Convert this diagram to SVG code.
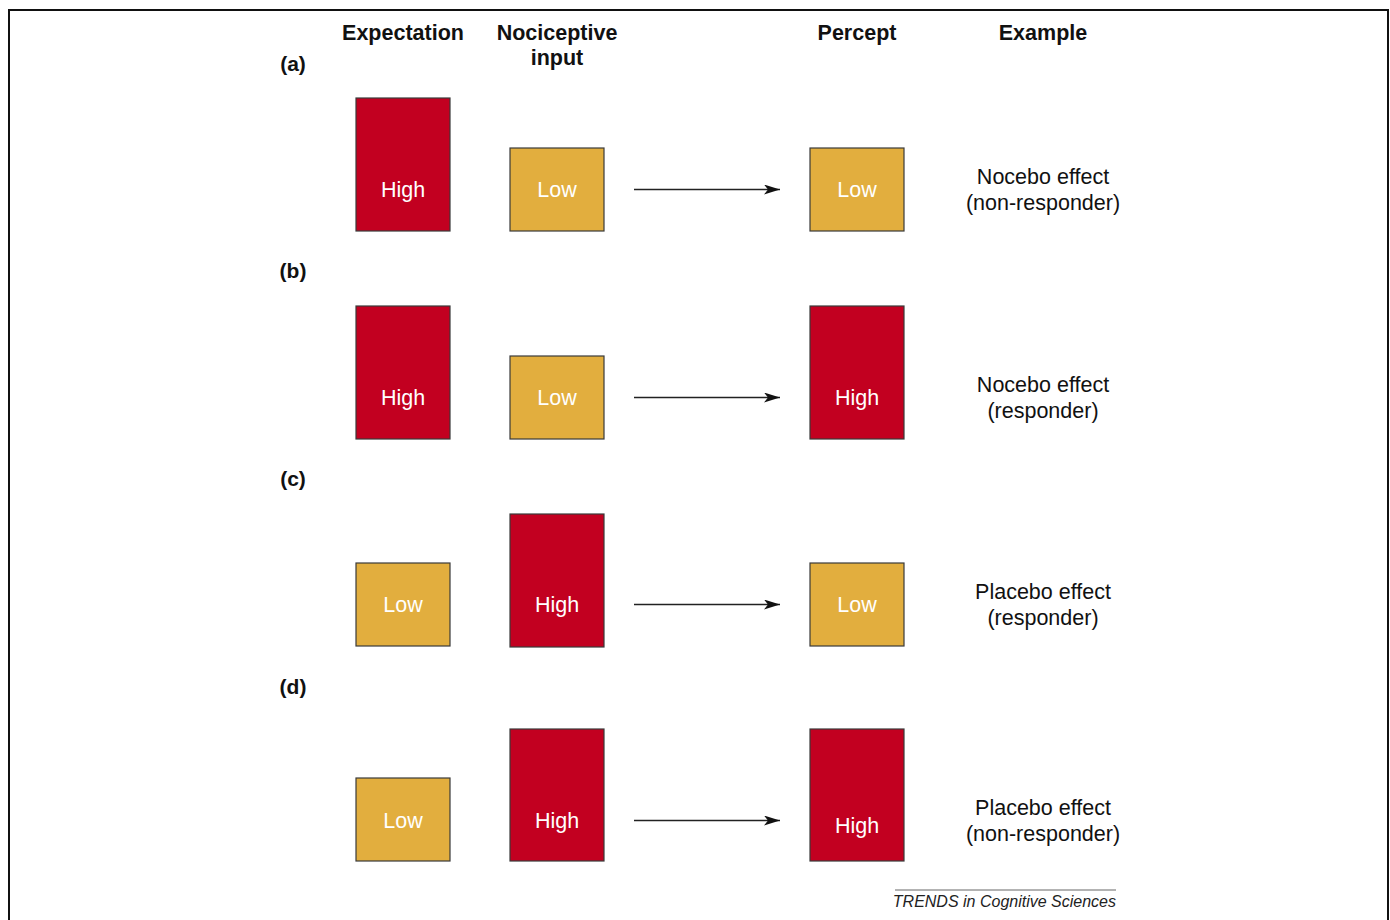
<svg xmlns="http://www.w3.org/2000/svg" width="1390" height="920" viewBox="0 0 1390 920">
  <style>
    .hdr { font-family: "Liberation Sans", Arial, sans-serif; font-weight: bold; font-size: 21.5px; fill: #111; text-anchor: middle; }
    .lbl { font-family: "Liberation Sans", Arial, sans-serif; font-weight: bold; font-size: 21px; fill: #111; text-anchor: middle; }
    .box { stroke: #3a3a3a; stroke-width: 1.2; }
    .hi { fill: #c20020; }
    .lo { fill: #e2ae3e; }
    .bt { font-family: "Liberation Sans", Arial, sans-serif; font-size: 21.5px; fill: #ffffff; text-anchor: middle; }
    .ex { font-family: "Liberation Sans", Arial, sans-serif; font-size: 21.5px; fill: #111; text-anchor: middle; }
    .arrow { stroke: #222; stroke-width: 1.6; fill: none; marker-end: url(#head); }
  </style>
  <defs>
    <marker id="head" viewBox="0 0 16 10" refX="16" refY="5" markerWidth="16" markerHeight="10" markerUnits="userSpaceOnUse" orient="auto">
      <path d="M0,0 L16,5 L0,10 L4,5 Z" fill="#111"/>
    </marker>
  </defs>

  <rect x="0" y="0" width="1390" height="920" fill="#ffffff"/>
  <!-- outer frame -->
  <path d="M9,921 V10 H1388 V921" fill="none" stroke="#111" stroke-width="2"/>

  <!-- column headers -->
  <g id="headers">
    <text class="hdr" x="403" y="40">Expectation</text>
    <text class="hdr" x="557" y="40">Nociceptive</text>
    <text class="hdr" x="557" y="65">input</text>
    <text class="hdr" x="857" y="40">Percept</text>
    <text class="hdr" x="1043" y="40">Example</text>
  </g>

  <!-- row labels -->
  <g id="row-labels">
    <text class="lbl" x="293" y="71">(a)</text>
    <text class="lbl" x="293" y="278">(b)</text>
    <text class="lbl" x="293" y="486">(c)</text>
    <text class="lbl" x="293" y="694">(d)</text>
  </g>

  <!-- row (a) -->
  <g id="a-expectation"><rect class="box hi" x="356" y="98" width="94" height="133"/><text class="bt" x="403" y="197">High</text></g>
  <g id="a-input"><rect class="box lo" x="510" y="148" width="94" height="83"/><text class="bt" x="557" y="197">Low</text></g>
  <g id="a-percept"><rect class="box lo" x="810" y="148" width="94" height="83"/><text class="bt" x="857" y="197">Low</text></g>
  <g id="a-example"><text class="ex" x="1043" y="184">Nocebo effect</text><text class="ex" x="1043" y="210">(non-responder)</text></g>

  <!-- row (b) -->
  <g id="b-expectation"><rect class="box hi" x="356" y="306" width="94" height="133"/><text class="bt" x="403" y="405">High</text></g>
  <g id="b-input"><rect class="box lo" x="510" y="356" width="94" height="83"/><text class="bt" x="557" y="405">Low</text></g>
  <g id="b-percept"><rect class="box hi" x="810" y="306" width="94" height="133"/><text class="bt" x="857" y="405">High</text></g>
  <g id="b-example"><text class="ex" x="1043" y="392">Nocebo effect</text><text class="ex" x="1043" y="418">(responder)</text></g>

  <!-- row (c) -->
  <g id="c-expectation"><rect class="box lo" x="356" y="563" width="94" height="83"/><text class="bt" x="403" y="612">Low</text></g>
  <g id="c-input"><rect class="box hi" x="510" y="514" width="94" height="133"/><text class="bt" x="557" y="612">High</text></g>
  <g id="c-percept"><rect class="box lo" x="810" y="563" width="94" height="83"/><text class="bt" x="857" y="612">Low</text></g>
  <g id="c-example"><text class="ex" x="1043" y="599">Placebo effect</text><text class="ex" x="1043" y="625">(responder)</text></g>

  <!-- row (d) -->
  <g id="d-expectation"><rect class="box lo" x="356" y="778" width="94" height="83"/><text class="bt" x="403" y="828">Low</text></g>
  <g id="d-input"><rect class="box hi" x="510" y="729" width="94" height="132"/><text class="bt" x="557" y="828">High</text></g>
  <g id="d-percept"><rect class="box hi" x="810" y="729" width="94" height="132"/><text class="bt" x="857" y="833">High</text></g>
  <g id="d-example"><text class="ex" x="1043" y="815">Placebo effect</text><text class="ex" x="1043" y="841">(non-responder)</text></g>

  <!-- connectors -->
  <g id="connectors">
    <line class="arrow" x1="634" y1="189.5" x2="780" y2="189.5"/>
    <line class="arrow" x1="634" y1="397.5" x2="780" y2="397.5"/>
    <line class="arrow" x1="634" y1="604.5" x2="780" y2="604.5"/>
    <line class="arrow" x1="634" y1="820.5" x2="780" y2="820.5"/>
  </g>

  <!-- journal credit -->
  <g id="credit">
    <line x1="895" y1="890" x2="1116" y2="890" stroke="#666" stroke-width="1"/>
    <text x="1116" y="907" font-family="'Liberation Sans', Arial, sans-serif" font-style="italic" font-size="16" fill="#222" text-anchor="end">TRENDS in Cognitive Sciences</text>
  </g>
</svg>
